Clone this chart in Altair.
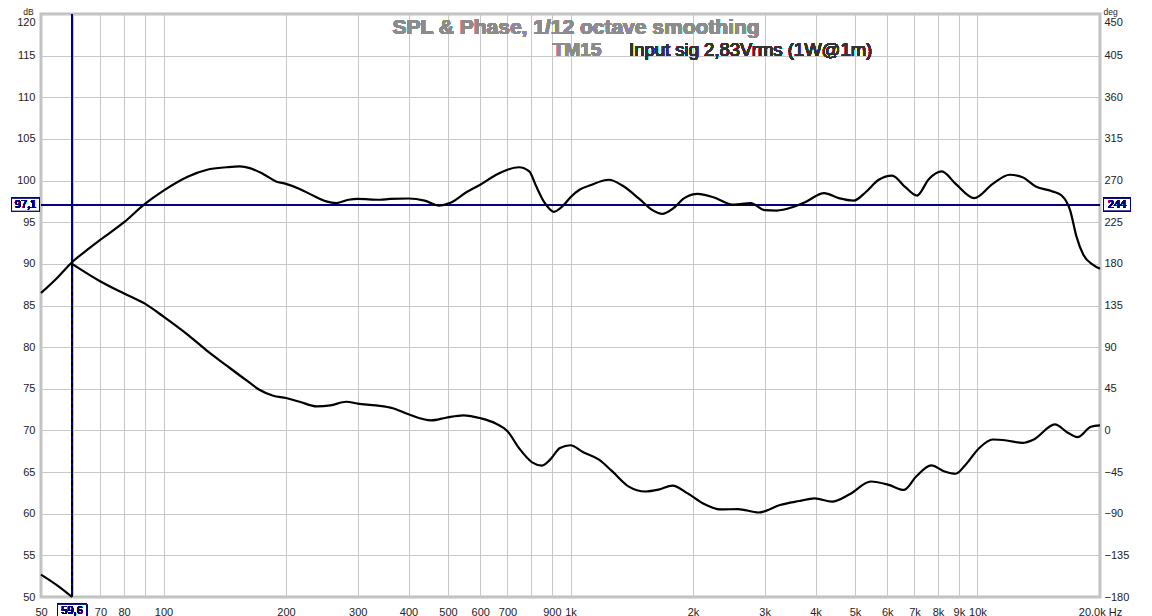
import altair as alt
import pandas as pd

# ---------------- data ----------------
spl_freq = [50, 55, 59.6, 65, 70, 80, 90, 100, 115, 128, 143, 154, 163, 175.6, 189, 200,
            216, 233, 251, 266, 285, 300, 340, 360, 400, 438, 476, 505, 555, 600, 657, 700,
            747, 792, 822, 862, 910, 955, 1000, 1052, 1113, 1243, 1341, 1476, 1590, 1681,
            1781, 1904, 2055, 2245, 2516, 2770, 3000, 3210, 3510, 3770, 4200, 4560, 4970,
            5310, 5720, 6170, 6650, 7100, 7600, 8170, 8840, 9820, 10900, 12000, 12900,
            13900, 15300, 16100, 16900, 17500, 18200, 19200, 20000]
spl_db = [86.5, 88.4, 90.2, 91.7, 92.9, 95.0, 97.2, 98.8, 100.5, 101.3, 101.6, 101.7, 101.5,
          100.8, 99.9, 99.6, 99.0, 98.2, 97.5, 97.3, 97.7, 97.8, 97.7, 97.8, 97.85, 97.6,
          97.0, 97.3, 98.6, 99.5, 100.7, 101.3, 101.6, 101.1, 99.4, 97.4, 96.25, 96.9, 98.0,
          98.9, 99.4, 100.1, 99.4, 97.8, 96.45, 96.0, 96.6, 97.9, 98.4, 98.0, 97.1, 97.3,
          96.45, 96.4, 96.8, 97.4, 98.5, 97.9, 97.6, 98.6, 100.1, 100.6, 99.2, 98.2, 100.2,
          101.1, 99.6, 97.9, 99.6, 100.7, 100.4, 99.3, 98.7, 98.2, 96.4, 93.3, 91.1, 89.9,
          89.4]

# phase before the wrap (50 .. 59.6 Hz)
phase_low_freq = [50, 55, 59.6]
phase_low_deg = [-155.8, -168, -180]
# phase after the wrap
phase_freq = [59.6, 70, 80, 90, 100, 115, 128, 143, 160, 172, 186, 200, 216, 238, 257, 281,
              300, 333, 366, 400, 455, 494, 545, 602, 657, 700, 747, 805, 851, 891, 942,
              1000, 1072, 1175, 1267, 1391, 1526, 1645, 1781, 1940, 2119, 2338, 2579, 2900,
              3270, 3650, 3980, 4390, 4850, 5470, 6050, 6600, 7070, 7700, 8300, 8840, 9350,
              10100, 10900, 11800, 12900, 13750, 15500, 16600, 17600, 19000, 20000]
phase_deg = [180, 161, 148, 137, 123, 103, 86, 70, 54, 44, 37.5, 35, 31, 26, 27, 31, 29, 27,
             24, 17.4, 10.9, 13.7, 16.3, 13.1, 7.2, -0.8, -19, -34.5, -38, -31.6, -19, -16,
             -23.3, -31.6, -44.3, -60.7, -66, -64, -59.6, -68, -79, -85.4, -85, -88.7, -80.6,
             -76.3, -73.4, -77, -69, -55.2, -58.8, -64.3, -49.8, -37.8, -44.3, -46.8, -37,
             -19, -9.8, -10.9, -13.5, -9.8, 6.5, -1.9, -7.3, 3.9, 5.4]

cursor_freq = 59.6
cursor_db = 97.1
cursor_deg = 244

x_grid = [50, 60, 70, 80, 90, 100, 200, 300, 400, 500, 600, 700, 800, 900,
          1000, 2000, 3000, 4000, 5000, 6000, 7000, 8000, 9000, 10000, 20000]
db_ticks = list(range(50, 121, 5))
deg_ticks = list(range(-180, 451, 45))

title_main = "SPL & Phase, 1/12 octave smoothing"
sub_name = "TM15"
sub_info = "Input sig 2,83Vrms (1W@1m)"

# ---------------- layout / style ----------------
W, H = 1059, 583
FONT = "Liberation Sans"
NAVY = "#000080"
GRID = "#c8c8c8"

spl_df = pd.DataFrame({"f": spl_freq, "v": spl_db})
ph_df = pd.concat([
    pd.DataFrame({"f": phase_low_freq, "v": phase_low_deg, "seg": "a"}),
    pd.DataFrame({"f": phase_freq, "v": phase_deg, "seg": "b"}),
])

xscale = alt.Scale(type="log", domain=[50, 20000], nice=False)
label_expr = ("datum.value == 60 || datum.value == 90 || datum.value == 800 ? '' : "
              "datum.value == 20000 ? '20,0k Hz' : "
              "datum.value >= 1000 ? (datum.value / 1000) + 'k' : '' + datum.value")
xaxis = alt.Axis(values=x_grid, labelExpr=label_expr, grid=True, gridColor=GRID,
                 domain=False, ticks=False, labelOverlap=False, labelFlush=False,
                 labelPadding=9, title=None)

dbscale = alt.Scale(domain=[50, 120], nice=False, zero=False)
degscale = alt.Scale(domain=[-180, 450], nice=False, zero=False)

# rectangle symbol for cursor value boxes
box_shape = "M-1,-0.46L1,-0.46L1,0.46L-1,0.46Z"

def fmt(v):
    return f"{v:g}".replace(".", ",")

top_label_offset = {"condition": {"test": "datum.value == 120 || datum.value == 450",
                                  "value": 8}, "value": 0}

# ---------- left (dB) group ----------
vrule = alt.Chart(spl_df).mark_rule(color=NAVY, strokeWidth=1).encode(
    x=alt.datum(cursor_freq))
hrule = alt.Chart(spl_df).mark_rule(color=NAVY, strokeWidth=1).encode(
    y=alt.datum(cursor_db))
spl_line = alt.Chart(spl_df).mark_line(color="black", strokeWidth=2.2,
                                       interpolate="monotone").encode(
    x=alt.X("f:Q", scale=xscale, axis=xaxis),
    y=alt.Y("v:Q", scale=dbscale,
            axis=alt.Axis(values=db_ticks, grid=True, gridColor=GRID, domain=False,
                          ticks=False, labelFlush=False, labelPadding=6,
                          labelOffset=top_label_offset,
                          title="dB", titleAngle=0, titleX=-13, titleY=0,
                          titleAlign="center", titleBaseline="alphabetic",
                          titleFontWeight="normal", titleFontSize=8.5)),
)
left_box = alt.Chart(spl_df).mark_point(shape=box_shape, size=28 * 28, filled=True,
                                        fill="white", stroke=NAVY, strokeWidth=1,
                                        opacity=1).encode(
    x=alt.value(-15.5), y=alt.datum(cursor_db))
left_txt = alt.Chart(spl_df).mark_text(color=NAVY, fontSize=11, font=FONT).encode(
    x=alt.value(-15.5), y=alt.datum(cursor_db), text=alt.value(fmt(cursor_db)))
x_box = alt.Chart(spl_df).mark_point(shape=box_shape, size=29 * 29, filled=True,
                                     fill="white", stroke=NAVY, strokeWidth=1,
                                     opacity=1).encode(
    x=alt.datum(cursor_freq), y=alt.value(H + 14))
x_txt = alt.Chart(spl_df).mark_text(color=NAVY, fontSize=11, font=FONT).encode(
    x=alt.datum(cursor_freq), y=alt.value(H + 14), text=alt.value(fmt(cursor_freq)))

t_main = alt.Chart(spl_df).mark_text(fontSize=21, fontWeight="bold", color="#8c8c8c",
                                     font=FONT, align="center",
                                     baseline="alphabetic").encode(
    x=alt.value(535), y=alt.value(20), text=alt.value(title_main))
t_name = alt.Chart(spl_df).mark_text(fontSize=19, fontWeight="bold", color="#8c8c8c",
                                     font=FONT, align="center",
                                     baseline="alphabetic").encode(
    x=alt.value(536), y=alt.value(42), text=alt.value(sub_name))
t_info = alt.Chart(spl_df).mark_text(fontSize=18.5, color="#333333", font=FONT,
                                     align="left", baseline="alphabetic").encode(
    x=alt.value(588), y=alt.value(42), text=alt.value(sub_info))

left = alt.layer(vrule, hrule, spl_line, left_box, left_txt, x_box, x_txt,
                 t_main, t_name, t_info)

# ---------- right (deg) group ----------
ph_line = alt.Chart(ph_df).mark_line(color="black", strokeWidth=2.2,
                                     interpolate="monotone").encode(
    x=alt.X("f:Q", scale=xscale, axis=xaxis),
    y=alt.Y("v:Q", scale=degscale,
            axis=alt.Axis(orient="right", values=deg_ticks, grid=False, domain=False,
                          ticks=False, labelFlush=False, labelPadding=4,
                          labelOffset=top_label_offset,
                          title="deg", titleAngle=0, titleX=3, titleY=0,
                          titleAlign="left", titleBaseline="alphabetic",
                          titleFontWeight="normal", titleFontSize=8.5)),
    detail="seg:N",
)
wrap = alt.Chart(ph_df).mark_rule(color="black", strokeWidth=1.5,
                                  strokeDash=[4, 3]).encode(
    x=alt.datum(cursor_freq), y=alt.datum(-180), y2=alt.datum(180))
right_box = alt.Chart(ph_df).mark_point(shape=box_shape, size=27 * 27, filled=True,
                                        fill="white", stroke=NAVY, strokeWidth=1,
                                        opacity=1).encode(
    x=alt.value(W + 17), y=alt.datum(cursor_deg))
right_txt = alt.Chart(ph_df).mark_text(color=NAVY, fontSize=11, font=FONT).encode(
    x=alt.value(W + 17), y=alt.datum(cursor_deg), text=alt.value(fmt(cursor_deg)))

right = alt.layer(ph_line, wrap, right_box, right_txt)

chart = alt.layer(left, right).resolve_scale(y="independent").properties(
    width=W, height=H,
    autosize=alt.AutoSizeParams(type="none"),
    padding={"left": 33, "top": 6, "right": 44, "bottom": 20},
    background="white",
).configure_view(
    stroke="#c0c0c0", strokeWidth=3,
).configure_axis(
    labelFont=FONT, labelFontSize=11, labelColor="#222222",
    titleFont=FONT, titleColor="#222222",
)

chart.save("out.html", embed_options={"renderer": "svg", "actions": False})
